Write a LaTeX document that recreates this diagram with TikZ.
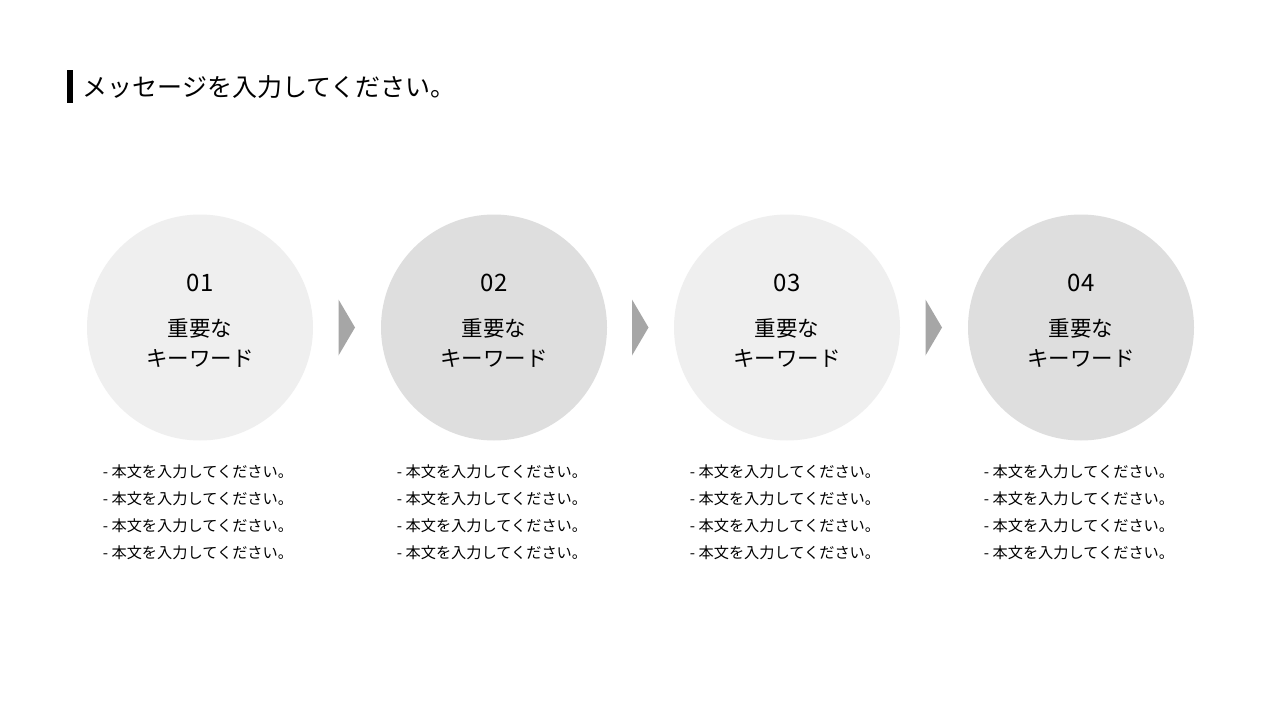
\documentclass[tikz,border=0pt]{standalone}
\usepackage{fontspec}
\setmainfont{Noto Sans CJK JP}
\usetikzlibrary{positioning, calc}
\definecolor{lightgray1}{HTML}{EFEFEF}
\definecolor{darkgray1}{HTML}{DEDEDE}
\definecolor{arrowgray}{HTML}{A6A6A6}
\begin{document}
\begin{tikzpicture}[x=1pt, y=-1pt]
	\tikzstyle{stepcircle} = [circle, draw=none, minimum size=226pt, inner sep=0pt]
	\tikzstyle{numtext} = [font=\fontsize{24}{27}\selectfont, text=black]
	\tikzstyle{keytext} = [font=\fontsize{21.5}{30}\selectfont, align=center, text=black]
	\tikzstyle{bodytext} = [font=\fontsize{15.2}{27}\selectfont, align=left, text=black]
	\tikzstyle{chevron} = [fill=arrowgray, draw=none]
	\fill[white] (0,0) rectangle (1280,720);
	% title
	\fill[black] (67,70) rectangle (73,103);
	\node (title) [anchor=west, font=\fontsize{25}{28}\selectfont] at (79,87) {メッセージを入力してください。};
	% steps
	\foreach \i/\x/\col in {1/200/lightgray1, 2/494/darkgray1, 3/787/lightgray1, 4/1081/darkgray1}{
		\node (step\i) [stepcircle, fill=\col] at (\x,327.5) {};
		\node (num\i) [numtext] at (\x,283) {0\i};
		\node (key\i) [keytext] at (\x,343) {重要な\\キーワード};
		\node (body\i) [bodytext] at (\x-2,512) {- 本文を入力してください。\\- 本文を入力してください。\\- 本文を入力してください。\\- 本文を入力してください。};
	}
	% arrows between steps
	\foreach \a/\b in {1/2, 2/3, 3/4}{
		\coordinate (mid\a) at ($(step\a)!0.5!(step\b)$);
		\fill[chevron] ([xshift=-8.5pt, yshift=28pt]mid\a) -- ([xshift=8pt]mid\a) -- ([xshift=-8.5pt, yshift=-28pt]mid\a) -- cycle;
	}
\end{tikzpicture}
\end{document}
